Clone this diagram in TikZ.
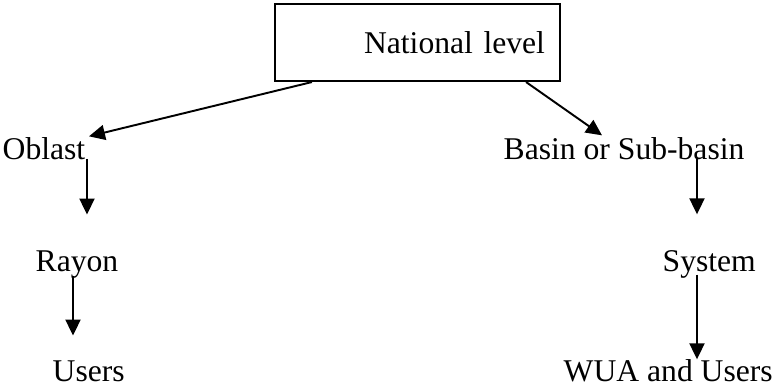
\documentclass[tikz,border=0pt]{standalone}
\usepackage{fontspec}
\setmainfont{Liberation Serif}
\usetikzlibrary{arrows.meta,calc}

\tikzset{
  lvl/.style={inner sep=0pt, anchor=base west, font=\fontsize{9pt}{11pt}\selectfont},
  arr/.style={line width=0.55pt, -{Triangle[length=0.16cm, width=0.15cm]}}
}

\begin{document}
\begin{tikzpicture}
    \useasboundingbox (0,0) rectangle (7.73,3.85);
    \node[draw, line width=0.6pt, minimum width=2.85cm, minimum height=0.77cm, text width=2.55cm, align=right, inner xsep=0.15cm, inner ysep=0pt, font=\fontsize{9pt}{11pt}\selectfont] (nat) at (4.175,3.425) {National level};
    \node[lvl] (oblast) at (0.02,2.25) {Oblast};
    \node[lvl] (rayon) at (0.35,1.13) {Rayon};
    \node[lvl] (users) at (0.52,0.03) {Users};
    \node[lvl] (basin) at (5.03,2.25) {Basin or Sub-basin};
    \node[lvl] (system) at (6.62,1.13) {System};
    \node[lvl] (wua) at (5.63,0.03) {WUA and Users};
    \coordinate (os) at ($(oblast.south east)+(0.01,0.02)$);
    \coordinate (rs) at ($(rayon.south west)+(0.38,0.04)$);
    \coordinate (bs) at ($(basin.south west)+(1.94,0.02)$);
    \coordinate (ss) at ($(system.south west)+(0.35,0.05)$);
    \draw[arr] ($(nat.south west)+(0.38,0)$) -- ($(oblast.north east)+(0.03,0.01)$);
    \draw[arr] ($(nat.south east)+(-0.35,0)$) -- ($(basin.north west)+(0.99,0.02)$);
    \draw[arr, shorten >=0.36cm] (os) -- (os |- rayon.north);
    \draw[arr, shorten >=0.25cm] (rs) -- (rs |- users.north);
    \draw[arr, shorten >=0.36cm] (bs) -- (bs |- system.north);
    \draw[arr] (ss) -- (ss |- wua.north);
\end{tikzpicture}
\end{document}
